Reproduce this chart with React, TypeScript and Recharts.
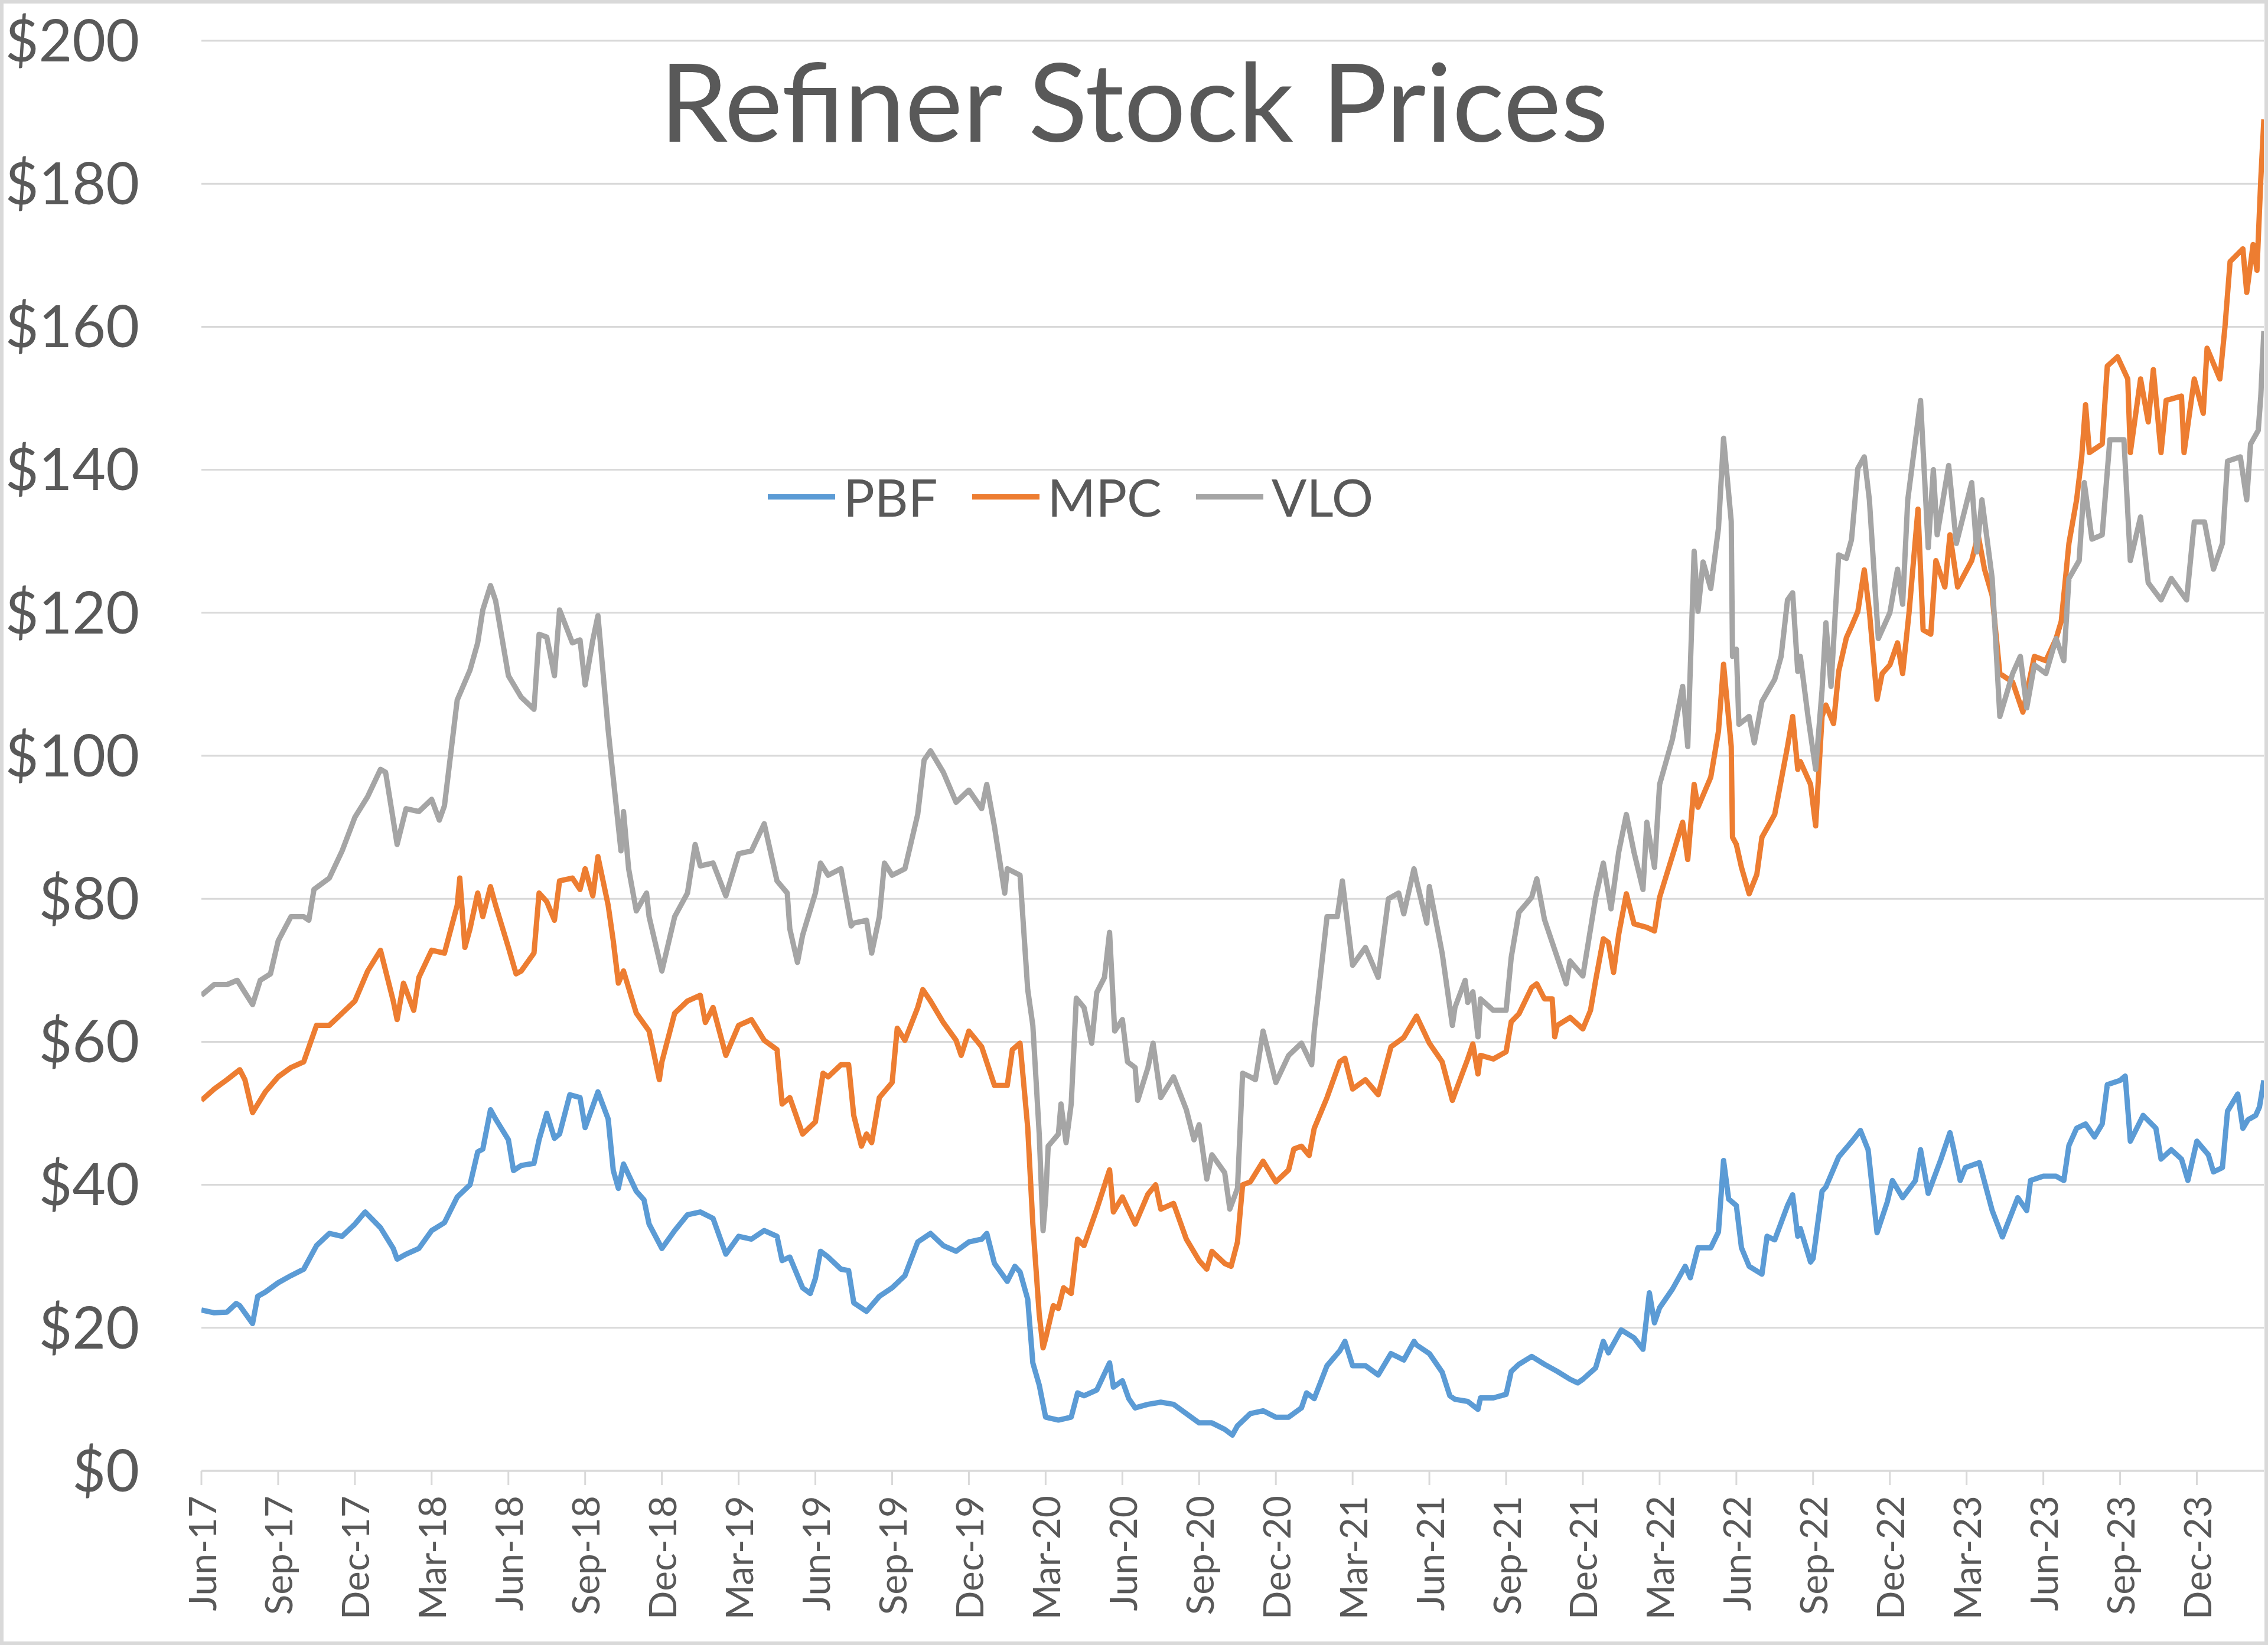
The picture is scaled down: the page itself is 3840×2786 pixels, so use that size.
import { LineChart, Line, XAxis, YAxis, CartesianGrid, Legend } from 'recharts';

// x = months since Jun 1 2017, y = share price ($)
const PBF: [number, number][] = [
    [0, 22.5], [0.5, 22.1], [1, 22.2], [1.36, 23.4], [1.5, 23.1], [2, 20.6], [2.2, 24.4], [2.5, 25], [3, 26.3], [3.5, 27.3],
    [4, 28.2], [4.5, 31.5], [5, 33.2], [5.5, 32.8], [6, 34.5], [6.4, 36.2], [7, 34], [7.5, 31.1], [7.65, 29.6], [8, 30.3],
    [8.5, 31.1], [9, 33.6], [9.5, 34.7], [10, 38.3], [10.5, 40], [10.8, 44.6], [11, 45], [11.3, 50.5], [11.5, 49.2], [12, 46.3],
    [12.2, 42], [12.5, 42.7], [13, 43], [13.2, 46.3], [13.5, 50], [13.8, 46.5], [14, 47.1], [14.4, 52.6], [14.8, 52.2], [15, 48],
    [15.5, 53], [15.9, 49.2], [16.1, 42], [16.3, 39.5], [16.5, 42.9], [17, 39.1], [17.3, 37.9], [17.5, 34.5], [18, 31.1], [18.5, 33.6],
    [19, 35.8], [19.5, 36.2], [20, 35.3], [20.5, 30.3], [21, 32.8], [21.5, 32.4], [22, 33.6], [22.5, 32.8], [22.7, 29.4], [23, 29.9],
    [23.5, 25.6], [23.8, 24.8], [24, 26.9], [24.2, 30.7], [24.5, 29.9], [25, 28.2], [25.3, 28], [25.5, 23.5], [26, 22.3], [26.5, 24.4],
    [27, 25.6], [27.5, 27.3], [28, 32], [28.5, 33.2], [29, 31.5], [29.5, 30.7], [30, 32], [30.5, 32.4], [30.7, 33.2], [31, 29],
    [31.5, 26.5], [31.8, 28.6], [32, 27.8], [32.3, 24], [32.5, 15.1], [32.75, 12], [33, 7.5], [33.5, 7.1], [34, 7.5], [34.25, 10.9],
    [34.5, 10.5], [35, 11.3], [35.5, 15.1], [35.65, 11.7], [36, 12.6], [36.25, 10.1], [36.5, 8.8], [37, 9.3], [37.5, 9.6], [38, 9.3],
    [38.5, 8], [39, 6.7], [39.5, 6.7], [40, 5.8], [40.3, 5], [40.5, 6.3], [41, 8], [41.5, 8.4], [42, 7.5], [42.5, 7.5],
    [43, 8.8], [43.2, 10.9], [43.5, 10.1], [44, 14.7], [44.5, 16.8], [44.7, 18.1], [45, 14.7], [45.5, 14.7], [46, 13.4], [46.5, 16.4],
    [47, 15.5], [47.4, 18.1], [47.5, 17.6], [48, 16.4], [48.5, 13.8], [48.8, 10.5], [49, 10], [49.5, 9.7], [49.9, 8.6], [50, 10.2],
    [50.5, 10.2], [51, 10.7], [51.2, 13.9], [51.5, 14.9], [52, 16], [52.5, 14.9], [53, 13.9], [53.5, 12.8], [53.8, 12.3], [54, 12.8],
    [54.5, 14.4], [54.8, 18.1], [55, 16.5], [55.5, 19.7], [56, 18.6], [56.35, 17], [56.6, 24.9], [56.8, 20.7], [57, 22.8], [57.5, 25.4],
    [58, 28.6], [58.2, 27], [58.5, 31.2], [59, 31.2], [59.3, 33.4], [59.5, 43.4], [59.7, 38], [60, 37.1], [60.2, 31.2], [60.5, 28.6],
    [61, 27.5], [61.2, 32.8], [61.5, 32.3], [62, 37.1], [62.2, 38.6], [62.4, 32.8], [62.5, 33.9], [62.9, 29.2], [63, 29.7], [63.35, 39.1],
    [63.5, 39.7], [64, 43.9], [64.5, 46], [64.85, 47.6], [65.15, 44.9], [65.5, 33.3], [65.9, 37.6], [66.1, 40.6], [66.5, 38.2], [67, 40.6],
    [67.2, 44.9], [67.5, 38.8], [68, 43.6], [68.35, 47.3], [68.5, 44.9], [68.75, 40.6], [68.95, 42.4], [69.5, 43.1], [70, 36.4], [70.4, 32.7],
    [71, 38.2], [71.35, 36.4], [71.5, 40.6], [72, 41.2], [72.5, 41.2], [72.8, 40.6], [73, 45.5], [73.3, 47.9], [73.65, 48.5], [74, 46.7],
    [74.3, 48.5], [74.5, 54], [75, 54.6], [75.2, 55.2], [75.4, 46.1], [75.9, 49.7], [76.4, 47.9], [76.6, 43.6], [77, 44.9], [77.4, 43.6],
    [77.65, 40.6], [78, 46.1], [78.45, 44.2], [78.65, 41.8], [79, 42.4], [79.2, 50.3], [79.6, 52.7], [79.8, 47.9], [80, 49.1], [80.3, 49.7],
    [80.45, 50.9], [80.62, 54.6],
];

const MPC: [number, number][] = [
    [0, 51.8], [0.5, 53.4], [1, 54.7], [1.5, 56.1], [1.7, 54.7], [2, 50.1], [2.5, 53], [3, 55.1], [3.5, 56.4], [4, 57.2],
    [4.5, 62.3], [5, 62.3], [5.5, 64], [6, 65.7], [6.5, 69.9], [7, 72.8], [7.5, 65.7], [7.65, 63.1], [7.9, 68.2], [8.3, 64.4],
    [8.5, 69], [9, 72.8], [9.5, 72.4], [10, 79.1], [10.1, 82.9], [10.3, 73.2], [10.5, 75.8], [10.8, 80.8], [11, 77.5], [11.3, 81.7],
    [11.5, 79.1], [12, 73.2], [12.3, 69.5], [12.5, 69.9], [13, 72.4], [13.2, 80.8], [13.5, 79.6], [13.8, 77], [14, 82.5], [14.5, 82.9],
    [14.8, 81.3], [15, 84.2], [15.3, 80.4], [15.5, 85.9], [15.9, 79.1], [16.1, 74.1], [16.3, 68.2], [16.5, 69.9], [17, 64], [17.5, 61.5],
    [17.9, 54.7], [18, 57.2], [18.5, 64], [19, 65.7], [19.5, 66.5], [19.7, 62.7], [20, 64.8], [20.5, 58.1], [21, 62.3], [21.5, 63.1],
    [22, 60.2], [22.5, 58.9], [22.7, 51.3], [23, 52.2], [23.5, 47.1], [24, 48.8], [24.3, 55.6], [24.5, 55.1], [25, 56.8], [25.3, 56.8],
    [25.5, 49.7], [25.8, 45.4], [26, 47.1], [26.2, 45.9], [26.5, 52.2], [27, 54.3], [27.2, 61.9], [27.5, 60.2], [28, 64.8], [28.2, 67.3],
    [28.5, 65.7], [29, 62.7], [29.5, 60.2], [29.7, 58.1], [30, 61.5], [30.5, 59.3], [31, 53.9], [31.5, 53.9], [31.7, 58.9], [32, 59.8],
    [32.3, 48], [32.5, 34.5], [32.75, 21.9], [32.9, 17.2], [33, 18.5], [33.3, 23.1], [33.5, 22.7], [33.7, 25.6], [34, 24.8], [34.25, 32.4],
    [34.5, 31.5], [35, 36.6], [35.5, 42.1], [35.65, 36.2], [36, 38.3], [36.5, 34.5], [37, 38.7], [37.3, 40], [37.5, 36.6], [38, 37.4],
    [38.5, 32.4], [39, 29.4], [39.3, 28.2], [39.5, 30.7], [40, 29], [40.25, 28.6], [40.5, 32], [40.7, 40], [41, 40.4], [41.5, 43.3],
    [42, 40.4], [42.5, 42.1], [42.7, 45], [43, 45.4], [43.3, 44.1], [43.5, 47.9], [44, 52.2], [44.5, 57.2], [44.7, 57.7], [45, 53.4],
    [45.5, 54.7], [46, 52.6], [46.5, 59.3], [47, 60.6], [47.5, 63.6], [48, 59.8], [48.5, 57.2], [48.9, 51.8], [49, 52.8], [49.5, 57.6],
    [49.7, 59.7], [49.9, 55.5], [50, 58.1], [50.5, 57.6], [51, 58.6], [51.2, 62.8], [51.5, 63.9], [52, 67.6], [52.2, 68.1], [52.5, 66],
    [52.8, 66], [52.9, 60.7], [53, 62.3], [53.5, 63.4], [54, 61.8], [54.3, 64.4], [54.5, 68.6], [54.8, 74.4], [55, 73.9], [55.2, 69.7],
    [55.4, 75], [55.7, 80.7], [56, 76.5], [56.5, 76], [56.8, 75.5], [57, 80.2], [57.5, 86], [57.9, 90.7], [58.1, 85.5], [58.35, 96],
    [58.5, 92.8], [59, 97], [59.3, 103.4], [59.5, 112.8], [59.8, 101.3], [59.85, 88.6], [60, 87.6], [60.2, 84.4], [60.5, 80.7], [60.8, 83.4],
    [61, 88.6], [61.5, 91.8], [62, 101.3], [62.2, 105.5], [62.4, 98.1], [62.5, 99.2], [62.9, 96], [63.1, 90.2], [63.35, 105.5], [63.5, 107.1],
    [63.8, 104.5], [64, 111.8], [64.3, 116.5], [64.5, 118.1], [64.75, 120.2], [65, 126], [65.2, 120.2], [65.5, 107.9], [65.7, 111.5], [66, 112.7],
    [66.3, 115.8], [66.5, 111.5], [66.75, 120], [67.1, 134.5], [67.3, 117.6], [67.6, 117], [67.8, 127.3], [68.15, 123.6], [68.35, 130.9], [68.65, 123.6],
    [69.2, 127.3], [69.45, 130.9], [69.7, 126.1], [70, 122.4], [70.3, 111.5], [70.8, 110.3], [71.2, 106.1], [71.65, 113.9], [72.1, 113.3], [72.5, 116.4],
    [72.7, 118.8], [73, 129.7], [73.3, 135.8], [73.5, 141.8], [73.65, 149.1], [73.8, 142.4], [74.3, 143.6], [74.5, 154.5], [74.9, 155.8], [75.3, 152.7],
    [75.4, 142.4], [75.8, 152.7], [76.1, 146.7], [76.3, 154], [76.6, 142.4], [76.8, 149.7], [77.4, 150.3], [77.5, 142.4], [77.9, 152.7], [78.25, 147.9],
    [78.4, 157], [78.9, 152.7], [79.1, 160], [79.3, 169.1], [79.8, 170.9], [79.95, 164.8], [80.2, 171.5], [80.35, 167.9], [80.5, 180.6], [80.62, 189],
];

const VLO: [number, number][] = [
    [0, 66.5], [0.5, 68], [1, 68], [1.4, 68.6], [2, 65.2], [2.3, 68.6], [2.7, 69.5], [3, 74.1], [3.5, 77.5], [4, 77.5],
    [4.2, 77], [4.4, 81.3], [5, 82.9], [5.5, 86.7], [6, 91.4], [6.5, 94.3], [7, 98.1], [7.2, 97.7], [7.5, 91], [7.65, 87.6],
    [8, 92.6], [8.5, 92.2], [9, 93.9], [9.3, 91], [9.5, 93], [10, 107.8], [10.5, 112], [10.8, 115.8], [11, 120.4], [11.3, 123.8],
    [11.5, 121.7], [12, 111.2], [12.5, 108.2], [13, 106.5], [13.2, 117], [13.5, 116.6], [13.8, 111.2], [14, 120.4], [14.5, 115.8], [14.8, 116.2],
    [15, 109.9], [15.3, 116.2], [15.5, 119.6], [15.9, 103.6], [16.2, 93.5], [16.4, 86.7], [16.5, 92.2], [16.7, 84.2], [17, 78.3], [17.4, 80.8],
    [17.5, 77.5], [18, 69.9], [18.5, 77.5], [19, 80.8], [19.3, 87.6], [19.5, 84.6], [20, 85], [20.5, 80.4], [21, 86.3], [21.5, 86.7],
    [22, 90.5], [22.5, 82.5], [22.9, 80.8], [23, 75.8], [23.3, 71.1], [23.5, 74.9], [24, 80.8], [24.2, 85], [24.5, 83.3], [25, 84.2],
    [25.4, 76.2], [25.5, 76.6], [26, 77], [26.2, 72.4], [26.5, 77.5], [26.7, 85], [27, 83.3], [27.5, 84.2], [28, 91.8], [28.25, 99.4],
    [28.5, 100.7], [29, 97.7], [29.5, 93.5], [30, 95.2], [30.5, 92.6], [30.7, 96], [31, 90.1], [31.4, 80.8], [31.5, 84.2], [32, 83.3],
    [32.3, 67.3], [32.5, 62.3], [32.75, 47.1], [32.9, 33.6], [33, 38], [33.1, 45.4], [33.5, 47.1], [33.6, 51.3], [33.8, 45.9], [34, 51.3],
    [34.2, 66.1], [34.5, 64.8], [34.8, 59.8], [35, 66.9], [35.3, 69], [35.5, 75.3], [35.7, 61.5], [36, 63.1], [36.2, 57.2], [36.5, 56.4],
    [36.6, 51.8], [37, 56.4], [37.2, 59.8], [37.5, 52.2], [38, 55.1], [38.5, 50.5], [38.8, 46.3], [39, 48.4], [39.3, 40.8], [39.5, 44.2],
    [40, 41.7], [40.2, 36.6], [40.5, 39.5], [40.7, 55.6], [41, 55.1], [41.2, 54.7], [41.5, 61.5], [42, 54.3], [42.5, 58.1], [43, 59.8],
    [43.4, 56.8], [43.5, 61.5], [44, 77.5], [44.4, 77.5], [44.6, 82.5], [45, 70.7], [45.5, 73.2], [46, 69], [46.4, 80], [46.8, 80.8],
    [47, 77.9], [47.4, 84.2], [47.5, 82.5], [47.9, 76.6], [48, 81.7], [48.5, 72.4], [48.9, 62.3], [49, 64.8], [49.4, 68.6], [49.5, 65.5],
    [49.7, 67], [49.9, 60.7], [50, 66], [50.5, 64.4], [51, 64.4], [51.2, 71.8], [51.5, 78.1], [52, 80.2], [52.2, 82.8], [52.5, 77.1],
    [53, 71.8], [53.35, 68.1], [53.5, 71.3], [54, 69.2], [54.5, 80.2], [54.8, 85], [55.1, 78.6], [55.4, 86.5], [55.7, 91.8], [56, 86.5],
    [56.35, 81.3], [56.5, 90.7], [56.8, 84.4], [57, 96], [57.5, 102.3], [57.9, 109.7], [58.1, 101.3], [58.35, 128.6], [58.5, 120.2], [58.7, 127.1],
    [59, 123.4], [59.3, 131.8], [59.5, 144.4], [59.8, 132.8], [59.85, 113.9], [60, 114.9], [60.1, 104.4], [60.5, 105.5], [60.7, 101.8], [61, 107.6],
    [61.5, 110.7], [61.75, 113.9], [62, 121.8], [62.2, 122.8], [62.4, 111.8], [62.5, 113.9], [62.8, 105.5], [63.1, 98.1], [63.35, 109.2], [63.5, 118.6],
    [63.7, 109.7], [64, 128.1], [64.3, 127.6], [64.5, 130.2], [64.75, 140.2], [65, 141.8], [65.2, 135.8], [65.55, 116.4], [66, 120], [66.3, 126.1],
    [66.5, 121.2], [66.7, 135.8], [67.2, 149.7], [67.5, 129.1], [67.7, 140], [67.85, 130.9], [68.3, 140.6], [68.6, 129.7], [69.2, 138.2], [69.4, 128.5],
    [69.6, 135.8], [70, 124.8], [70.3, 105.5], [70.8, 111.5], [71.1, 113.9], [71.35, 106.7], [71.65, 112.7], [72.1, 111.5], [72.5, 116.4], [72.8, 113.3],
    [73, 124.8], [73.4, 127.3], [73.6, 138.2], [73.9, 130.3], [74.3, 130.9], [74.6, 144.2], [75.15, 144.2], [75.4, 127.3], [75.8, 133.4], [76.1, 124.2],
    [76.6, 121.8], [77, 124.8], [77.6, 121.8], [77.9, 132.7], [78.3, 132.7], [78.65, 126.1], [79, 129.7], [79.2, 141.2], [79.7, 141.8], [79.95, 135.8],
    [80.1, 143.6], [80.4, 145.5], [80.5, 150.3], [80.62, 159.4],
];

const xTickLabels = [
    'Jun-17', 'Sep-17', 'Dec-17', 'Mar-18', 'Jun-18', 'Sep-18', 'Dec-18', 'Mar-19', 'Jun-19',
    'Sep-19', 'Dec-19', 'Mar-20', 'Jun-20', 'Sep-20', 'Dec-20', 'Mar-21', 'Jun-21', 'Sep-21',
    'Dec-21', 'Mar-22', 'Jun-22', 'Sep-22', 'Dec-22', 'Mar-23', 'Jun-23', 'Sep-23', 'Dec-23',
];
const yTicks = [0, 20, 40, 60, 80, 100, 120, 140, 160, 180, 200];

const series = [
    { name: 'PBF', points: PBF, color: '#5B9BD5' },
    { name: 'MPC', points: MPC, color: '#ED7D31' },
    { name: 'VLO', points: VLO, color: '#A5A5A5' },
];

const FONT = 'Lato, "Open Sans", sans-serif';
const TEXT = '#595959';
const GRID = '#d9d9d9';

function MonthTick({ x, y, payload }: any) {
    const label = xTickLabels[Math.round(payload.value / 3)];
    return (
        <text
            x={x}
            y={y}
            transform={`rotate(-90 ${x} ${y})`}
            textAnchor="end"
            dominantBaseline="central"
            fill={TEXT}
            fontSize={64}
            fontFamily={FONT}
        >
            {label}
        </text>
    );
}

function LegendRow() {
    return (
        <div style={{ display: 'flex', alignItems: 'center', fontFamily: FONT, fontSize: 88, color: TEXT, lineHeight: '90px' }}>
            {series.map((s) => (
                <div key={s.name} style={{ display: 'flex', alignItems: 'center', marginRight: 58 }}>
                    <span style={{ display: 'inline-block', width: 114, height: 9, background: s.color, marginRight: 14 }} />
                    <span>{s.name}</span>
                </div>
            ))}
        </div>
    );
}

export default function App() {
    const xTicks = xTickLabels.map((_, i) => i * 3);

    return (
        <div style={{ position: 'absolute', left: 0, top: 0, width: 3840, height: 2786, background: '#fff' }}>
            <LineChart width={3840} height={2786} margin={{ top: 69, right: 7, bottom: 0, left: 0 }}>
                <CartesianGrid vertical={false} stroke={GRID} strokeWidth={3} />
                <XAxis
                    dataKey="m"
                    type="number"
                    domain={[0, 80.62]}
                    ticks={xTicks}
                    interval={0}
                    height={295}
                    stroke={GRID}
                    strokeWidth={3}
                    tickSize={24}
                    tickMargin={18}
                    tick={<MonthTick />}
                    allowDataOverflow
                />
                <YAxis
                    type="number"
                    domain={[0, 200]}
                    ticks={yTicks}
                    interval={0}
                    width={341}
                    axisLine={false}
                    tickLine={false}
                    tickSize={0}
                    tickMargin={105}
                    tickFormatter={(v) => `$${v}`}
                    tick={{ fill: TEXT, fontSize: 98, fontFamily: FONT }}
                />
                <Legend
                    layout="horizontal"
                    verticalAlign="middle"
                    align="center"
                    content={<LegendRow />}
                    wrapperStyle={{ left: 1300, top: 796, width: 1200, height: 90 }}
                />
                {series.map((s) => (
                    <Line
                        key={s.name}
                        name={s.name}
                        data={s.points.map(([m, v]) => ({ m, v }))}
                        dataKey="v"
                        type="linear"
                        stroke={s.color}
                        strokeWidth={9}
                        strokeLinejoin="round"
                        dot={false}
                        activeDot={false}
                        isAnimationActive={false}
                    />
                ))}
            </LineChart>

            {/* Title */}
            <div
                style={{
                    position: 'absolute', left: 0, top: 76, width: 3840, textAlign: 'center',
                    fontFamily: FONT, fontSize: 185, lineHeight: 1, color: TEXT,
                }}
            >
                Refiner Stock Prices
            </div>

            {/* Outer frame */}
            <div style={{ position: 'absolute', inset: 0, border: `6px solid ${GRID}`, boxSizing: 'border-box', pointerEvents: 'none' }} />
        </div>
    );
}
